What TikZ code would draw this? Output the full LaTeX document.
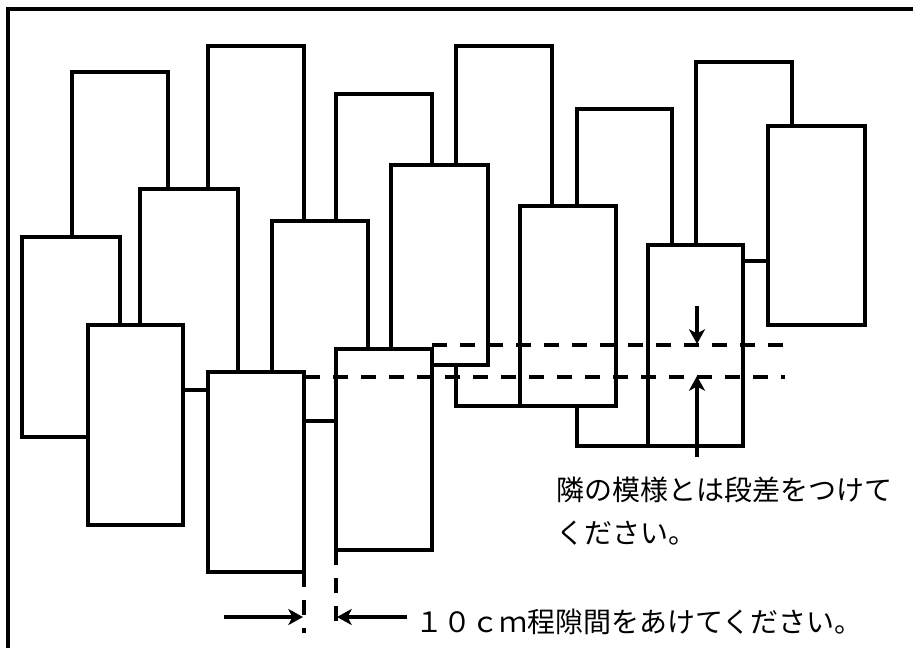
\documentclass[tikz,border=0pt]{standalone}
\usepackage{fontspec}
\newfontfamily\jpfont{Noto Sans CJK JP}
\usetikzlibrary{arrows.meta}

\begin{document}
\begin{tikzpicture}[x=0.75pt,y=-0.75pt,
	tile/.style={draw,fill=white,line width=2.6pt},
	level/.style={line width=2.6pt,dash pattern=on 11.25pt off 9.75pt},
	gap/.style={line width=2.6pt,-{Stealth[length=11pt,width=12pt,inset=3pt]}},
	note/.style={anchor=west,inner sep=0pt,font=\jpfont\fontsize{21pt}{25pt}\selectfont}]
	\useasboundingbox (0,0) rectangle (913,647);
	\draw[line width=3pt] (8,660) -- (8,9) -- (930,9);

	% back row
	\draw[tile] (72,72) rectangle (168,360);
	\draw[tile] (208,46) rectangle (304,500);
	\draw[tile] (336,94) rectangle (432,420);
	\draw[tile] (456,46) rectangle (552,406);
	\draw[tile] (577,109) rectangle (672,446);
	\draw[tile] (696,62) rectangle (792,261);

	% middle row
	\draw[tile] (22,237) rectangle (120,437);
	\draw[tile] (140,189) rectangle (238,390);
	\draw[tile] (272,221) rectangle (368,421);
	\draw[tile] (391,165) rectangle (488,365);
	\draw[tile] (768,126) rectangle (865,325);

	% front row
	\draw[tile] (88,325) rectangle (183,525);
	\draw[tile] (208,372) rectangle (304,572);
	\draw[tile] (336,349) rectangle (432,550);
	\draw[tile] (520,206) rectangle (616,406);
	\draw[tile] (648,245) rectangle (743,446);

	\coordinate (highL) at (432,345);
	\coordinate (highR) at (785,345);
	\coordinate (lowL) at (305,377);
	\coordinate (lowR) at (785,377);
	\coordinate (edgeL) at (304,572);
	\coordinate (edgeLb) at (304,633);
	\coordinate (edgeR) at (336,550);
	\coordinate (edgeRb) at (336,633);

	\draw[level] (highL) -- (highR);
	\draw[level] (lowL) -- (lowR);
	\draw[level] (edgeL) -- (edgeLb);
	\draw[level] (edgeR) -- (edgeRb);

	\coordinate (downT) at (697,306);
	\coordinate (downH) at (697,344);
	\coordinate (upT) at (697,457);
	\coordinate (upH) at (697,376);
	\coordinate (rightT) at (224,617);
	\coordinate (rightH) at (303,617);
	\coordinate (leftT) at (407,617);
	\coordinate (leftH) at (337,617);

	\draw[gap] (downT) -- (downH);
	\draw[gap] (upT) -- (upH);
	\draw[gap] (rightT) -- (rightH);
	\draw[gap] (leftT) -- (leftH);

	\node[note] (step1) at (556,490) {隣の模様とは段差をつけて};
	\node[note] (step2) at (556,533) {ください。};
	\node[note] (space) at (415,622) {１０ｃｍ程隙間をあけてください。};
\end{tikzpicture}
\end{document}
